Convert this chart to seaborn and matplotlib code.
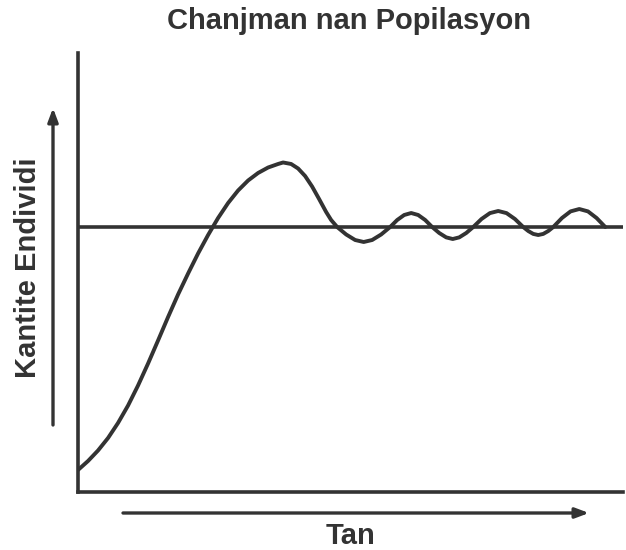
import matplotlib
matplotlib.use("Agg")
import matplotlib.pyplot as plt
import seaborn as sns
import pandas as pd

# ---- data (arbitrary units) ----
time = [0.0, 1.85, 3.69, 5.54, 7.38, 9.23, 11.07, 12.92, 14.76, 16.61, 18.45, 20.30,
        22.14, 23.99, 25.83, 27.68, 29.52, 31.37, 33.21, 35.06, 36.90, 37.82,
        39.30, 40.59, 41.88, 43.17, 44.46, 45.76, 46.68, 47.79,
        49.45, 51.11, 52.68, 54.24, 55.90, 57.56,
        58.86, 60.15, 61.44, 62.73, 64.02, 65.31,
        66.61, 67.90, 69.10, 70.30, 71.59, 72.88,
        74.41, 75.96, 77.49, 79.02, 80.57, 82.10,
        83.03, 83.95, 84.87, 85.79, 86.72, 87.64,
        89.24, 90.83, 92.44, 94.04, 95.63, 97.23]
population = [5.01, 7.06, 9.45, 12.30, 15.72, 19.70, 24.26, 29.27, 34.51, 39.86, 44.99, 49.77,
              54.33, 58.54, 62.41, 65.83, 68.68, 70.96, 72.67, 73.92, 74.72, 75.06,
              74.72, 73.69, 71.98, 69.59, 66.74, 63.78, 61.96, 60.36,
              58.66, 57.40, 56.95, 57.40, 58.66, 60.36,
              61.96, 63.10, 63.55, 63.10, 61.96, 60.36,
              59.00, 58.00, 57.63, 58.00, 59.00, 60.36,
              62.19, 63.53, 64.01, 63.53, 62.19, 60.36,
              59.45, 58.79, 58.54, 58.79, 59.45, 60.36,
              62.41, 63.92, 64.46, 63.92, 62.41, 60.36]
carrying_capacity = 60.36

title = "Chanjman nan Popilasyon"
ylabel = "Kantite Endividi"
xlabel = "Tan"

df = pd.DataFrame({"time": time, "population": population})

sns.set_style("white")
plt.rcParams["font.family"] = ["Liberation Sans", "DejaVu Sans"]

ink = "#333333"
W, H = 626, 550
fig = plt.figure(figsize=(W / 100, H / 100), dpi=100)
left, right, top, bottom = 78, 623, 53, 492
ax = fig.add_axes([left / W, (H - bottom) / H, (right - left) / W, (bottom - top) / H])

ax.axhline(carrying_capacity, color=ink, lw=2.6, zorder=2)
sns.lineplot(data=df, x="time", y="population", ax=ax, color=ink, lw=2.8,
             sort=False, zorder=3)
ax.lines[-1].set_solid_joinstyle("round")
ax.lines[-1].set_solid_capstyle("round")

ax.set_xlim(0, 100.5)
ax.set_ylim(0, 100)
ax.set_xticks([])
ax.set_yticks([])
ax.set_xlabel("")
ax.set_ylabel("")
for s in ["top", "right"]:
    ax.spines[s].set_visible(False)
for s in ["left", "bottom"]:
    ax.spines[s].set_color(ink)
    ax.spines[s].set_linewidth(2.6)

# title
fig.text(349 / W, 1 - 21 / H, title, ha="center", va="center",
         fontsize=21, fontweight="bold", color=ink)

# arrows
arrow_kw = dict(arrowstyle="-|>,head_length=0.8,head_width=0.3", color=ink, lw=2.4,
                shrinkA=0, shrinkB=0)
ax.annotate("", xy=(53, H - 108), xytext=(53, H - 425), xycoords="figure pixels",
            textcoords="figure pixels", arrowprops=arrow_kw, annotation_clip=False)
ax.annotate("", xy=(589, H - 513), xytext=(123, H - 513), xycoords="figure pixels",
            textcoords="figure pixels", arrowprops=arrow_kw, annotation_clip=False)

fig.text(28 / W, 1 - 268 / H, ylabel, ha="center", va="center", rotation=90,
         fontsize=21, fontweight="bold", color=ink)
fig.text(350 / W, 1 - 536 / H, xlabel, ha="center", va="center",
         fontsize=21, fontweight="bold", color=ink)

fig.savefig("out.png", dpi=100, facecolor="white")
